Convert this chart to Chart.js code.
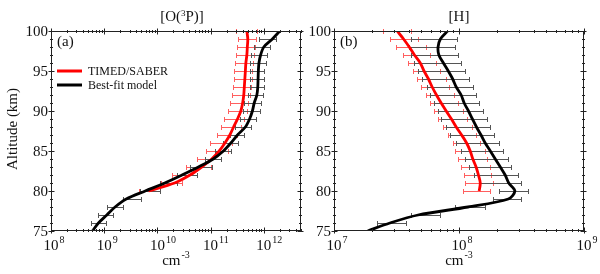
<!DOCTYPE html>
<html>
<head>
<meta charset="utf-8">
<script src="https://cdn.jsdelivr.net/npm/chart.js@4.4.1/dist/chart.umd.min.js"></script>
<style>
    html, body { margin: 0; padding: 0; background: #fff; }
    #wrap { position: relative; width: 600px; height: 274px; }
    canvas { position: absolute; top: 0; }
    #panelA { left: 0; }
    #panelB { left: 305px; }
</style>
</head>
<body>
<div id="wrap">
    <canvas id="panelA" width="305" height="274"></canvas>
    <canvas id="panelB" width="295" height="274"></canvas>
</div>
<script>
// ---- panel (a): [O(3P)] ----
const altSaber = [100, 99, 98, 97, 96, 95, 94, 93, 92, 91, 90, 89, 88, 87, 86, 85, 84, 83, 82, 81, 80];
const altModel = [100, 99, 98, 97, 96, 95, 94, 93, 92, 91, 90, 89, 88, 87, 86, 85, 84, 83, 82, 81, 80, 79, 78, 77, 76, 75];
const altModelErr = [99, 98, 97, 96, 95, 94, 93, 92, 91, 90, 89, 88, 87, 86, 85, 84, 83, 82, 81, 80, 79, 78, 77, 76];

const saberO = [4.8e11, 5.0e11, 4.9e11, 4.8e11, 4.6e11, 4.5e11, 4.4e11, 4.3e11, 4.2e11, 4.0e11, 3.7e11, 3.2e11, 2.7e11, 2.3e11, 1.86e11, 1.45e11, 1.05e11, 6.8e10, 4.1e10, 2.1e10, 6.8e9];
const saberOLow = [3.0e11, 3.3e11, 3.2e11, 3.0e11, 2.9e11, 2.8e11, 2.7e11, 2.6e11, 2.5e11, 2.3e11, 2.1e11, 1.8e11, 1.55e11, 1.3e11, 9.8e10, 8.1e10, 5.6e10, 3.5e10, 1.9e10, 1.15e10, 4.6e9];
const saberOHigh = [7.4e11, 7.1e11, 6.8e11, 6.6e11, 6.3e11, 6.0e11, 5.9e11, 5.75e11, 5.5e11, 5.1e11, 4.8e11, 4.3e11, 3.7e11, 3.1e11, 2.5e11, 2.1e11, 1.6e11, 1.0e11, 5.5e10, 2.9e10, 1.1e10];

const modelO = [2.0e12, 1.45e12, 1.0e12, 8.7e11, 8.1e11, 7.9e11, 7.8e11, 7.7e11, 7.4e11, 6.6e11, 6.1e11, 5.4e11, 4.5e11, 3.2e11, 2.4e11, 1.74e11, 1.12e11, 5.9e10, 2.9e10, 1.38e10, 5.9e9, 2.6e9, 1.6e9, 1.12e9, 7.8e8, 6.0e8];
const modelOLow = [8.1e11, 6.5e11, 5.75e11, 5.6e11, 5.5e11, 5.4e11, 5.4e11, 5.1e11, 4.3e11, 4.0e11, 3.5e11, 2.9e11, 2.3e11, 1.7e11, 1.2e11, 7.9e10, 4.1e10, 2.3e10, 1.12e10, 4.7e9, 2.3e9, 1.15e9, 7.8e8, 5.6e8];
const modelOHigh = [1.72e12, 1.32e12, 1.17e12, 1.1e12, 1.02e12, 1.02e12, 1.02e12, 9.5e11, 8.9e11, 8.3e11, 7.1e11, 5.75e11, 4.3e11, 3.3e11, 2.4e11, 1.6e11, 1.05e11, 5.5e10, 2.3e10, 1.12e10, 5.0e9, 2.3e9, 1.48e9, 1.07e9];

// ---- panel (b): [H] ----
const saberH = [3.2e7, 3.6e7, 4.0e7, 4.4e7, 4.9e7, 5.25e7, 5.7e7, 6.1e7, 6.6e7, 7.2e7, 7.9e7, 8.7e7, 9.5e7, 1.05e8, 1.15e8, 1.23e8, 1.29e8, 1.37e8, 1.43e8, 1.48e8, 1.45e8];
const saberHLow = [2.45e7, 2.8e7, 3.15e7, 3.55e7, 3.9e7, 4.3e7, 4.6e7, 5.0e7, 5.4e7, 5.9e7, 6.3e7, 6.8e7, 7.5e7, 8.2e7, 8.9e7, 9.3e7, 9.9e7, 1.04e8, 1.10e8, 1.12e8, 1.07e8];
const saberHHigh = [4.1e7, 4.7e7, 5.4e7, 5.9e7, 6.6e7, 7.1e7, 7.8e7, 8.3e7, 9.1e7, 9.8e7, 1.07e8, 1.15e8, 1.26e8, 1.38e8, 1.48e8, 1.62e8, 1.66e8, 1.76e8, 1.8e8, 1.86e8, 1.78e8];

const modelH = [8.1e7, 7.1e7, 6.8e7, 6.9e7, 7.5e7, 8.2e7, 8.9e7, 9.5e7, 1.04e8, 1.10e8, 1.19e8, 1.28e8, 1.38e8, 1.5e8, 1.62e8, 1.78e8, 1.95e8, 2.14e8, 2.34e8, 2.5e8, 2.8e8, 2.48e8, 1.18e8, 4.7e7, 2.8e7, 1.86e7];
const modelHLow = [4.1e7, 4.0e7, 4.1e7, 4.4e7, 4.7e7, 5.1e7, 5.5e7, 5.9e7, 6.3e7, 6.8e7, 7.2e7, 7.9e7, 8.5e7, 9.5e7, 1.04e8, 1.12e8, 1.2e8, 1.32e8, 1.45e8, 2.1e8, 1.86e8, 9.3e7, 4.1e7, 2.2e7];
const modelHHigh = [9.7e7, 9.3e7, 9.8e7, 1.04e8, 1.12e8, 1.2e8, 1.29e8, 1.37e8, 1.45e8, 1.55e8, 1.66e8, 1.78e8, 1.9e8, 2.1e8, 2.24e8, 2.45e8, 2.63e8, 2.95e8, 3.16e8, 3.55e8, 3.16e8, 1.62e8, 7.1e7, 3.8e7];

// ---- axes ----
const yTicks = [75, 80, 85, 90, 95, 100];
const xDecadesO = [8, 9, 10, 11, 12];
const xDecadesH = [7, 8, 9];

const SERIF = '"Liberation Serif", "DejaVu Serif", serif';
const RED = 'rgba(255, 0, 0, 1)';
const RED_BAR = 'rgba(255, 95, 95, 1)';
const BLACK_BAR = 'rgba(85, 85, 85, 1)';

const toPoints = (alt, vals) => alt.map((a, i) => ({ x: vals[i], y: a }));

// text with a raised exponent, e.g. 10^8 or cm^-3
function drawSup(ctx, base, exp, x, y, align) {
    ctx.font = `15px ${SERIF}`;
    const w1 = ctx.measureText(base).width;
    ctx.font = `10px ${SERIF}`;
    const w2 = ctx.measureText(exp).width;
    let x0 = x - w1 / 2;                       // base centred on x
    if (align === 'whole') x0 = x - (w1 + w2 + 1) / 2;
    ctx.textAlign = 'left';
    ctx.font = `15px ${SERIF}`;
    ctx.fillText(base, x0, y);
    ctx.font = `10px ${SERIF}`;
    ctx.fillText(exp, x0 + w1 + 1, y - 7);
}

function makePanel(id, p) {
    const frameAndLabels = {
        id: 'frameAndLabels',
        afterDraw(chart) {
            const { ctx, chartArea: a, scales: { x, y } } = chart;
            ctx.save();
            ctx.strokeStyle = '#222';
            ctx.fillStyle = '#111';
            ctx.lineWidth = 1;
            const L = Math.round(a.left) + 0.5, R = Math.round(a.right) - 0.5;
            const T = Math.round(a.top) + 0.5, B = Math.round(a.bottom) - 0.5;
            ctx.strokeRect(L, T, R - L, B - T);

            ctx.beginPath();
            // y ticks: every km minor, every 5 km major
            for (let v = yTicks[0]; v <= yTicks[yTicks.length - 1]; v++) {
                const py = Math.round(y.getPixelForValue(v)) + 0.5;
                const len = yTicks.includes(v) ? 3 : 1.5;
                ctx.moveTo(L - len, py); ctx.lineTo(L + len, py);
                ctx.moveTo(R - len, py); ctx.lineTo(R + len, py);
            }
            // log x ticks
            const lo = Math.log10(p.xMin), hi = Math.log10(p.xMax);
            for (let d = Math.floor(lo); d <= hi; d++) {
                for (let m = 1; m <= 9; m++) {
                    const v = m * Math.pow(10, d);
                    if (v < p.xMin * 0.999 || v > p.xMax * 1.001) continue;
                    const px = Math.round(x.getPixelForValue(v)) + 0.5;
                    const len = m === 1 ? 3 : 1.5;
                    ctx.moveTo(px, B - len); ctx.lineTo(px, B + len);
                    ctx.moveTo(px, T - len); ctx.lineTo(px, T + len);
                }
            }
            ctx.stroke();

            // tick labels
            ctx.font = `15px ${SERIF}`;
            ctx.textAlign = 'right';
            ctx.textBaseline = 'middle';
            yTicks.forEach(v => ctx.fillText(String(v), a.left - 3, y.getPixelForValue(v) + 1));
            ctx.textBaseline = 'alphabetic';
            p.decades.forEach(d => drawSup(ctx, '10', String(d), x.getPixelForValue(Math.pow(10, d)), a.bottom + 19));

            // axis titles
            const cx = (a.left + a.right) / 2;
            drawSup(ctx, 'cm', '-3', cx, a.bottom + 34, 'whole');
            if (p.yTitle) {
                ctx.save();
                ctx.translate(17, (a.top + a.bottom) / 2 - 2);
                ctx.rotate(-Math.PI / 2);
                ctx.textAlign = 'center';
                ctx.font = `15px ${SERIF}`;
                ctx.fillText(p.yTitle, 0, 0);
                ctx.restore();
            }

            // panel title, with optional superscript in the middle
            ctx.textAlign = 'left';
            const big = `15px ${SERIF}`, small = `9px ${SERIF}`;
            ctx.font = big;
            const wA = ctx.measureText(p.title[0]).width;
            const wC = ctx.measureText(p.title[2]).width;
            ctx.font = small;
            const wB = ctx.measureText(p.title[1]).width;
            let tx = cx + p.titleShift - (wA + wB + wC) / 2;
            ctx.font = big;
            ctx.fillText(p.title[0], tx, 21);
            ctx.font = small;
            ctx.fillText(p.title[1], tx + wA, 16);
            ctx.font = big;
            ctx.fillText(p.title[2], tx + wA + wB, 21);

            // panel letter
            ctx.font = `15px ${SERIF}`;
            ctx.fillText(p.letter, a.left + 6, a.top + 15);

            // legend
            if (p.legend) {
                chart.data.datasets.forEach((ds, i) => {
                    const ly = a.top + 40 + i * 14;
                    ctx.strokeStyle = ds.borderColor;
                    ctx.lineWidth = 3;
                    ctx.beginPath();
                    ctx.moveTo(a.left + 6, ly); ctx.lineTo(a.left + 31, ly);
                    ctx.stroke();
                    ctx.font = `12px ${SERIF}`;
                    ctx.textBaseline = 'middle';
                    ctx.fillText(ds.label, a.left + 37, ly + 1);
                });
            }
            ctx.restore();
        }
    };

    // horizontal error bars with caps, under the curves
    const errorBars = {
        id: 'errorBars',
        beforeDatasetsDraw(chart) {
            const { ctx, scales: { x, y } } = chart;
            ctx.save();
            ctx.lineWidth = 1;
            p.errors.forEach(set => {
                ctx.strokeStyle = set.color;
                ctx.beginPath();
                set.alt.forEach((alt, i) => {
                    const py = Math.round(y.getPixelForValue(alt)) + 0.5;
                    const x0 = Math.round(x.getPixelForValue(set.low[i])) + 0.5;
                    const x1 = Math.round(x.getPixelForValue(set.high[i])) + 0.5;
                    ctx.moveTo(x0, py); ctx.lineTo(x1, py);
                    ctx.moveTo(x0, py - 2.5); ctx.lineTo(x0, py + 2.5);
                    ctx.moveTo(x1, py - 2.5); ctx.lineTo(x1, py + 2.5);
                });
                ctx.stroke();
            });
            ctx.restore();
        }
    };

    return new Chart(document.getElementById(id), {
        type: 'scatter',
        data: {
            datasets: p.series.map((s, i) => ({
                label: s.label,
                data: toPoints(s.alt, s.values),
                showLine: true,
                borderColor: s.color,
                borderWidth: 2.8,
                pointRadius: 0,
                tension: 0.3,
                order: p.series.length - i   // later series drawn on top
            }))
        },
        options: {
            responsive: false,
            animation: false,
            events: [],
            layout: { padding: { top: 31, right: p.padRight, bottom: 0, left: 0 } },
            plugins: { legend: { display: false }, tooltip: { enabled: false } },
            scales: {
                x: {
                    type: 'logarithmic',
                    min: p.xMin,
                    max: p.xMax,
                    ticks: { display: false },
                    grid: { display: false },
                    border: { display: false },
                    afterFit: s => { s.height = 43; }
                },
                y: {
                    type: 'linear',
                    min: 75,
                    max: 100,
                    ticks: { display: false },
                    grid: { display: false },
                    border: { display: false },
                    afterFit: s => { s.width = p.yWidth; }
                }
            }
        },
        plugins: [errorBars, frameAndLabels]
    });
}

makePanel('panelA', {
    xMin: 1e8, xMax: 5e12, decades: xDecadesO,
    yWidth: 51, padRight: 4,
    title: ['[O(', '3', 'P)]'], titleShift: 6,
    letter: '(a)', yTitle: 'Altitude (km)', legend: true,
    series: [
        { label: 'TIMED/SABER', color: RED, alt: altSaber, values: saberO },
        { label: 'Best-fit model', color: '#000', alt: altModel, values: modelO }
    ],
    errors: [
        { color: RED_BAR, alt: altSaber, low: saberOLow, high: saberOHigh },
        { color: BLACK_BAR, alt: altModelErr, low: modelOLow, high: modelOHigh }
    ]
});

makePanel('panelB', {
    xMin: 1e7, xMax: 1e9, decades: xDecadesH,
    yWidth: 29, padRight: 16,
    title: ['[H]', '', ''], titleShift: 0,
    letter: '(b)', yTitle: null, legend: false,
    series: [
        { label: 'TIMED/SABER', color: RED, alt: altSaber, values: saberH },
        { label: 'Best-fit model', color: '#000', alt: altModel, values: modelH }
    ],
    errors: [
        { color: RED_BAR, alt: altSaber, low: saberHLow, high: saberHHigh },
        { color: BLACK_BAR, alt: altModelErr, low: modelHLow, high: modelHHigh }
    ]
});
</script>
</body>
</html>
